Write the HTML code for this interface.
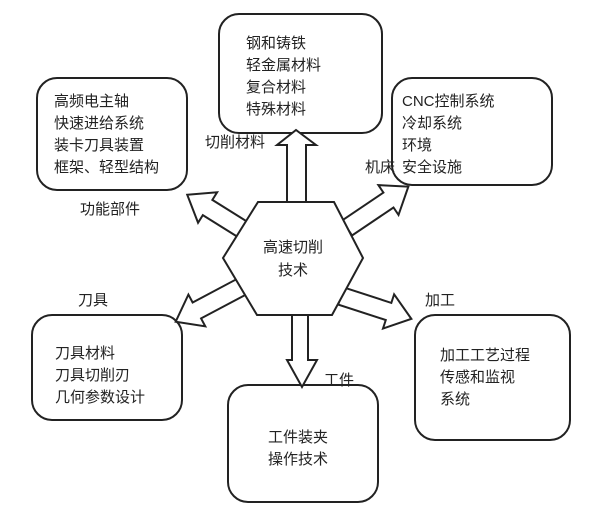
<!DOCTYPE html>
<html><head><meta charset="utf-8"><style>
body{margin:0;background:#fff;}
svg text{font-family:"Liberation Sans","Noto Sans CJK SC",sans-serif;font-size:15px;fill:#222;}
</style></head><body>
<svg width="600" height="514" viewBox="0 0 600 514" xmlns="http://www.w3.org/2000/svg">
<defs>
<polygon id="arr" points="0,-9 50,-9 50,-18 74,0 50,18 50,9 0,9" fill="#fff" stroke="#222" stroke-width="2"/>
</defs>
<g fill="#fff" stroke="#222" stroke-width="2">
<rect x="219" y="14" width="163" height="119" rx="20"/>
<rect x="37" y="78" width="150" height="112" rx="20"/>
<rect x="392" y="78" width="160" height="107" rx="20"/>
<rect x="32" y="315" width="150" height="105" rx="20"/>
<rect x="415" y="315" width="155" height="125" rx="20"/>
<rect x="228" y="385" width="150" height="117" rx="20"/>
</g>
<polygon points="287,206 287,145 277,145 296,130 316,145 306,145 306,206" fill="#fff" stroke="#222" stroke-width="2"/>
<polygon points="292,310 292,360 287,360 302,387 317,360 308,360 308,310" fill="#fff" stroke="#222" stroke-width="2"/>
<use href="#arr" transform="translate(250,234) rotate(212)"/>
<use href="#arr" transform="translate(347,228) rotate(-34)"/>
<use href="#arr" transform="translate(241,287) rotate(152)"/>
<use href="#arr" transform="translate(341,296) rotate(18)"/>
<polygon points="258,202 334,202 363,258 332,315 257,315 223,258" fill="#fff" stroke="#222" stroke-width="2"/>
<text x="293" y="252" text-anchor="middle">高速切削</text>
<text x="293" y="275" text-anchor="middle">技术</text>
<text x="246" y="48">钢和铸铁</text>
<text x="246" y="70">轻金属材料</text>
<text x="246" y="92">复合材料</text>
<text x="246" y="114">特殊材料</text>
<text x="54" y="106">高频电主轴</text>
<text x="54" y="128">快速进给系统</text>
<text x="54" y="150">装卡刀具装置</text>
<text x="54" y="172">框架、轻型结构</text>
<text x="402" y="106">CNC控制系统</text>
<text x="402" y="128">冷却系统</text>
<text x="402" y="150">环境</text>
<text x="402" y="172">安全设施</text>
<text x="55" y="358">刀具材料</text>
<text x="55" y="380">刀具切削刃</text>
<text x="55" y="402">几何参数设计</text>
<text x="440" y="360">加工工艺过程</text>
<text x="440" y="382">传感和监视</text>
<text x="440" y="404">系统</text>
<text x="268" y="442">工件装夹</text>
<text x="268" y="464">操作技术</text>
<text x="205" y="147">切削材料</text>
<text x="365" y="172">机床</text>
<text x="80" y="214">功能部件</text>
<text x="78" y="305">刀具</text>
<text x="425" y="305">加工</text>
<text x="324" y="385">工件</text>
</svg>
</body></html>
